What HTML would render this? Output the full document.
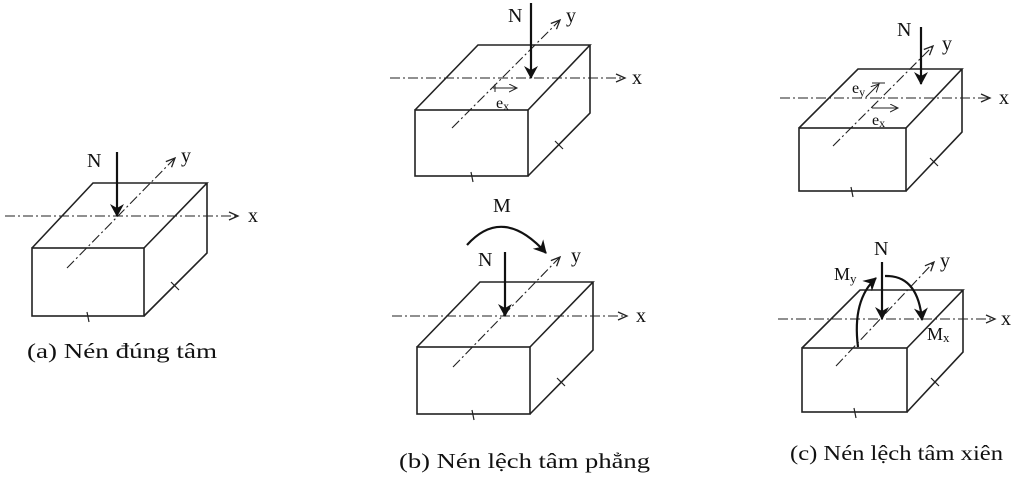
<!DOCTYPE html>
<html><head><meta charset="utf-8"><style>
html,body{margin:0;padding:0;background:#fff;}
svg{display:block;}
text{font-family:"Liberation Serif",serif;fill:#111;}
</style></head><body>
<svg width="1024" height="477" viewBox="0 0 1024 477" xmlns="http://www.w3.org/2000/svg">
<defs>
<marker id="ax" markerWidth="12" markerHeight="10" refX="10" refY="5" orient="auto" markerUnits="userSpaceOnUse">
<path d="M1,1 L10,5 L1,9" fill="none" stroke="#222" stroke-width="1.3"/></marker>
<marker id="fa" markerWidth="14" markerHeight="16" refX="12" refY="7" orient="auto" markerUnits="userSpaceOnUse">
<path d="M0,0 L13,7 L0,14 L4,7 Z" fill="#111"/></marker>
<marker id="sa" markerWidth="10" markerHeight="10" refX="8" refY="4" orient="auto" markerUnits="userSpaceOnUse">
<path d="M0,0 L8,4 L0,8" fill="none" stroke="#222" stroke-width="1"/></marker>
</defs>
<g fill="none" stroke="#222" stroke-width="1.6" stroke-linejoin="miter">
<rect x="32" y="248" width="112" height="68"/>
<path d="M32,248 L93,183 L207,183 L144,248 M207,183 L207,253 L144,316"/>
<path d="M87,312 L89,322 M171,282 L179,290" stroke-width="1.2"/>
<rect x="415" y="110" width="113" height="66"/>
<path d="M415,110 L478,45 L590,45 L528,110 M590,45 L590,113 L528,176"/>
<path d="M471,172 L473,182 M555,141 L563,149" stroke-width="1.2"/>
<rect x="417" y="347" width="113" height="67"/>
<path d="M417,347 L480,282 L593,282 L530,347 M593,282 L593,350 L530,414"/>
<path d="M472,410 L474,420 M557,378 L565,386" stroke-width="1.2"/>
<rect x="799" y="128" width="107" height="63"/>
<path d="M799,128 L858,69 L962,69 L906,128 M962,69 L962,132 L906,191"/>
<path d="M851,187 L853,197 M930,158 L938,166" stroke-width="1.2"/>
<rect x="802" y="348" width="105" height="64"/>
<path d="M802,348 L860,290 L963,290 L907,348 M963,290 L963,352 L907,412"/>
<path d="M854,408 L856,418 M931,378 L939,386" stroke-width="1.2"/>
</g>
<g fill="none" stroke="#222" stroke-width="1.1" stroke-dasharray="10 3 2 3">
<line x1="5" y1="216" x2="238" y2="216" marker-end="url(#ax)"/>
<line x1="67" y1="268" x2="175" y2="158" marker-end="url(#ax)"/>
<line x1="390" y1="78" x2="625" y2="78" marker-end="url(#ax)"/>
<line x1="452" y1="128" x2="560" y2="20" marker-end="url(#ax)"/>
<line x1="392" y1="316" x2="627" y2="316" marker-end="url(#ax)"/>
<line x1="453" y1="367" x2="560" y2="257" marker-end="url(#ax)"/>
<line x1="780" y1="98" x2="990" y2="98" marker-end="url(#ax)"/>
<line x1="833" y1="146" x2="933" y2="46" marker-end="url(#ax)"/>
<line x1="778" y1="319" x2="995" y2="319" marker-end="url(#ax)"/>
<line x1="836" y1="366" x2="934" y2="262" marker-end="url(#ax)"/>
</g>
<g stroke="#111" stroke-width="2.2" fill="none">
<line x1="117" y1="152" x2="117" y2="216" marker-end="url(#fa)"/>
<line x1="531" y1="3" x2="531" y2="78" marker-end="url(#fa)"/>
<line x1="505" y1="252" x2="505" y2="316" marker-end="url(#fa)"/>
<line x1="921" y1="27" x2="921" y2="84" marker-end="url(#fa)"/>
<line x1="882" y1="262" x2="882" y2="319" marker-end="url(#fa)"/>
<path d="M467,245 Q503,205 546,253" marker-end="url(#fa)"/>
<path d="M858,347 Q852,300 876,278" marker-end="url(#fa)"/>
<path d="M885,276 Q918,275 922,320" marker-end="url(#fa)"/>
</g>
<g stroke="#222" stroke-width="1" fill="none">
<line x1="493" y1="88" x2="517" y2="88" marker-end="url(#sa)"/>
<line x1="495" y1="84" x2="495" y2="92"/>
<line x1="872" y1="108" x2="898" y2="108" marker-end="url(#sa)"/>
<line x1="866" y1="97" x2="879" y2="84" marker-end="url(#sa)"/>
<line x1="872" y1="83" x2="885" y2="83"/>
</g>
<g font-size="20">
<text x="87" y="167">N</text><text x="181" y="162">y</text><text x="248" y="222">x</text>
<text x="508" y="22">N</text><text x="566" y="22">y</text><text x="632" y="84">x</text>
<text x="493" y="212">M</text><text x="478" y="266">N</text><text x="571" y="262">y</text><text x="636" y="322">x</text>
<text x="897" y="36">N</text><text x="942" y="50">y</text><text x="999" y="104">x</text>
<text x="874" y="255">N</text><text x="940" y="267">y</text><text x="1001" y="325">x</text>
</g>
<g font-size="16">
<text x="496" y="108">e<tspan font-size="12" dy="2">x</tspan></text>
<text x="852" y="93">e<tspan font-size="12" dy="3">y</tspan></text>
<text x="872" y="125">e<tspan font-size="12" dy="2">x</tspan></text>
<text x="834" y="280" font-size="18">M<tspan font-size="13" dy="3">y</tspan></text>
<text x="927" y="340" font-size="18">M<tspan font-size="13" dy="2">x</tspan></text>
</g>
<g font-size="21">
<text x="27" y="358" textLength="190" lengthAdjust="spacingAndGlyphs">(a) Nén đúng tâm</text>
<text x="399" y="468" textLength="251" lengthAdjust="spacingAndGlyphs">(b) Nén lệch tâm phẳng</text>
<text x="790" y="460" textLength="213" lengthAdjust="spacingAndGlyphs">(c) Nén lệch tâm xiên</text>
</g>
</svg>
</body></html>
